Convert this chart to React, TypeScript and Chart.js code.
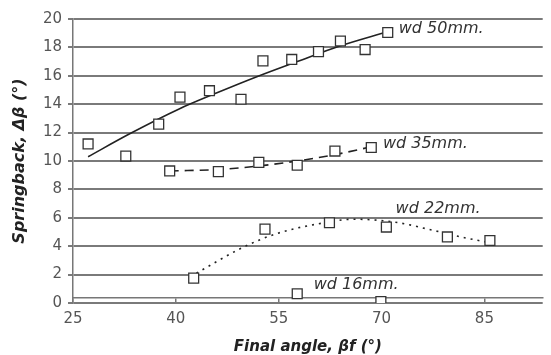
import React, { useEffect, useRef } from "react";
import { Chart, registerables } from "chart.js";

Chart.register(...registerables);

// Axis ticks
const xTicks = [25, 40, 55, 70, 85];
const yTicks = [0, 2, 4, 6, 8, 10, 12, 14, 16, 18, 20];

// Measured points (Final angle βf, Springback Δβ)
const wd50X = [27.2, 32.7, 37.5, 40.6, 44.9, 49.5, 52.7, 56.9, 60.8, 64.0, 67.6, 70.9];
const wd50Y = [11.2, 10.35, 12.6, 14.5, 14.95, 14.35, 17.05, 17.15, 17.7, 18.45, 17.85, 19.05];
const wd35X = [39.1, 46.2, 52.1, 57.7, 63.2, 68.5];
const wd35Y = [9.3, 9.25, 9.9, 9.7, 10.7, 10.95];
const wd22X = [42.6, 53.0, 62.4, 70.7, 79.6, 85.8];
const wd22Y = [1.75, 5.2, 5.65, 5.35, 4.65, 4.4];
const wd16X = [57.7, 69.9];
const wd16Y = [0.65, 0.1];

// Trend curves
const trend50X = [27.2, 33.2, 40.4, 46.0, 51.9, 57.7, 63.9, 70.8];
const trend50Y = [10.3, 11.9, 13.65, 14.8, 15.95, 17.0, 18.1, 19.1];
const trend35X = [39.1, 46.2, 52.1, 57.7, 63.2, 68.5];
const trend35Y = [9.3, 9.4, 9.65, 10.0, 10.45, 11.0];
const trend22X = [43.0, 50.0, 54.8, 60.5, 66.0, 72.5, 77.3, 82.1, 85.2];
const trend22Y = [2.1, 3.97, 4.9, 5.55, 5.9, 5.65, 5.14, 4.6, 4.3];

// Series annotations
const labelText = ["wd 50mm.", "wd 35mm.", "wd 22mm.", "wd 16mm."];
const labelX = [72.5, 70.2, 72.05, 60.1];
const labelY = [19.3, 11.2, 6.6, 1.27];

const pts = (xs: number[], ys: number[]) => xs.map((x, i) => ({ x, y: ys[i] }));

const labelPlugin = {
  id: "seriesLabels",
  afterDatasetsDraw(chart: any) {
    const { ctx, scales } = chart;
    ctx.save();
    ctx.font = "italic 16px 'DejaVu Sans'";
    ctx.fillStyle = "#333";
    ctx.textAlign = "left";
    ctx.textBaseline = "middle";
    labelText.forEach((t, i) => {
      ctx.fillText(t, scales.x.getPixelForValue(labelX[i]), scales.y.getPixelForValue(labelY[i]));
    });
    ctx.restore();
  },
};

export default function App() {
  const ref = useRef<HTMLCanvasElement>(null);
  useEffect(() => {
    if (!ref.current) return;
    Chart.defaults.font.family = "'DejaVu Sans'";
    const square = (xs: number[], ys: number[]) => ({
      type: "scatter" as const,
      data: pts(xs, ys),
      pointStyle: "rect",
      pointRadius: 7,
      pointBorderWidth: 1.3,
      borderColor: "#333",
      backgroundColor: "#fff",
      pointBackgroundColor: "#fff",
      pointBorderColor: "#333",
      showLine: false,
      order: 0,
    });
    const trend = (xs: number[], ys: number[], dash: number[]) => ({
      type: "line" as const,
      data: pts(xs, ys),
      borderColor: "#222",
      borderWidth: 1.6,
      borderDash: dash,
      pointRadius: 0,
      fill: false,
      cubicInterpolationMode: "monotone" as const,
      order: 1,
    });
    const chart = new Chart(ref.current, {
      type: "scatter",
      data: {
        datasets: [
          square(wd50X, wd50Y),
          square(wd35X, wd35Y),
          square(wd22X, wd22Y),
          square(wd16X, wd16Y),
          trend(trend50X, trend50Y, []),
          trend(trend35X, trend35Y, [9, 6]),
          trend(trend22X, trend22Y, [2, 5]),
        ] as any,
      },
      options: {
        responsive: false,
        animation: false,
        layout: { padding: { top: 19, right: 2, left: 0, bottom: 52 } },
        plugins: { legend: { display: false }, tooltip: { enabled: false } },
        scales: {
          x: {
            type: "linear",
            min: 25,
            max: 93.5,
            position: { y: 0.35 } as any,
            afterBuildTicks: (s: any) => {
              s.ticks = xTicks.map((v) => ({ value: v }));
            },
            afterFit: (s: any) => {
              s.height = 52;
            },
            grid: { drawOnChartArea: false, drawTicks: true, tickLength: 5, color: "#777", lineWidth: 1.5 },
            border: { display: true, color: "#777", width: 1.5 },
            ticks: { color: "#555", font: { size: 15 }, padding: 7, autoSkip: false, maxRotation: 0 },
            title: {
              display: true,
              text: "Final angle, βf (°)",
              color: "#222",
              font: { size: 15, weight: "bold", style: "italic" },
              padding: { top: 0, bottom: -6 },
            },
          },
          y: {
            type: "linear",
            min: 0,
            max: 20,
            afterBuildTicks: (s: any) => {
              s.ticks = yTicks.map((v) => ({ value: v }));
            },
            afterFit: (s: any) => {
              s.width = 73;
            },
            grid: { color: "#7a7a7a", lineWidth: 2, tickLength: 5 },
            border: { display: true, color: "#777", width: 1.5 },
            ticks: { color: "#555", font: { size: 15 }, padding: 6 },
            title: {
              display: true,
              text: "Springback, Δβ (°)",
              color: "#222",
              font: { size: 16, weight: "bold", style: "italic" },
              padding: { top: 10, bottom: 0 },
            },
          },
        },
      },
      plugins: [labelPlugin],
    });
    return () => chart.destroy();
  }, []);
  return (
    <div style={{ position: "fixed", left: 0, top: 0, width: 551, height: 355, background: "#fff" }}>
      <canvas ref={ref} width={551} height={355} style={{ display: "block" }} />
    </div>
  );
}
